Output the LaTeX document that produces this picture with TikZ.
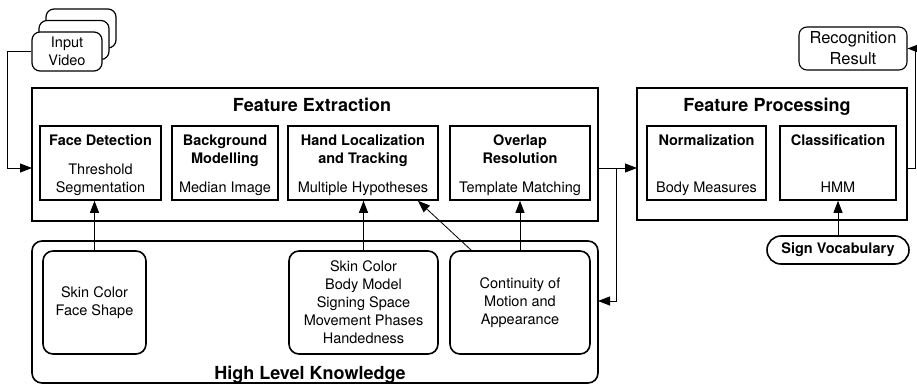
\documentclass[tikz,border=0pt]{standalone}
\usepackage{fontspec}
\setmainfont{TeX Gyre Heros}
\usetikzlibrary{arrows.meta}
\begin{document}
\begin{tikzpicture}[x=1pt,y=-1pt,
  thickbox/.style={draw,line width=1.6pt,inner sep=0pt,fill=white},
  conn/.style={line width=0.8pt},
  arr/.style={conn,-{Triangle[length=12pt,width=9pt]}},
  txt/.style={font=\fontsize{14.5}{18}\selectfont,align=center,inner sep=0pt},
  btxt/.style={font=\fontsize{14.5}{18}\selectfont\bfseries,align=center,inner sep=0pt},
  mline/.style={text depth=4pt},
  ttl/.style={font=\fontsize{18}{22}\selectfont\bfseries,inner sep=0pt,anchor=base},
]
\useasboundingbox (0,0) rectangle (917,385);

% Input video stack
\node[thickbox,line width=1.2pt,rounded corners=8pt,minimum width=70pt,minimum height=39pt] (iv3) at (81,28.5) {};
\node[thickbox,line width=1.2pt,rounded corners=8pt,minimum width=70pt,minimum height=39pt] (iv2) at (74,40) {};
\node[thickbox,line width=1.2pt,rounded corners=8pt,minimum width=70pt,minimum height=39pt,txt] (iv) at (67,51.5) {Input\\Video};

% Recognition result
\node[thickbox,line width=1.1pt,rounded corners=8pt,minimum width=108pt,minimum height=43pt,
  font=\fontsize{16.5}{21}\selectfont,align=center] (rr) at (853,48.5) {Recognition\\Result};

% Feature extraction
\node[thickbox,minimum width=566pt,minimum height=133pt] (fe) at (315,154.5) {};
\node[ttl] (fet) at (312,111) {Feature Extraction};
\node[thickbox,minimum width=121pt,minimum height=74pt] (fd) at (100.5,163) {};
\node[thickbox,minimum width=106pt,minimum height=74pt] (bg) at (225,163) {};
\node[thickbox,minimum width=150pt,minimum height=74pt] (hl) at (363,163) {};
\node[thickbox,minimum width=140pt,minimum height=74pt] (ov) at (520,163) {};
\node[btxt,anchor=base] (fdt) at (100.5,145.5) {Face Detection};
\node[txt,mline] (fdb) at (100.5,180.3) {Threshold\\Segmentation};
\node[btxt,mline] (bgt) at (225,151.3) {Background\\Modelling};
\node[txt,anchor=base] (bgb) at (225,192.5) {Median Image};
\node[btxt,mline] (hlt) at (363,151.3) {Hand Localization\\and Tracking};
\node[txt,anchor=base] (hlb) at (363,192.5) {Multiple Hypotheses};
\node[btxt,mline] (ovt) at (520,151.3) {Overlap\\Resolution};
\node[txt,anchor=base] (ovb) at (520,192.5) {Template Matching};

% Feature processing
\node[thickbox,minimum width=270pt,minimum height=132pt] (fp) at (772,154) {};
\node[ttl] (fpt) at (767,111.5) {Feature Processing};
\node[thickbox,minimum width=119pt,minimum height=74pt] (nm) at (706.5,163) {};
\node[thickbox,minimum width=116pt,minimum height=74pt] (cl) at (838,163) {};
\node[btxt,anchor=base] (nmt) at (706.5,145.5) {Normalization};
\node[txt,anchor=base] (nmb) at (706.5,192.5) {Body Measures};
\node[btxt,anchor=base] (clt) at (838,145.5) {Classification};
\node[txt,anchor=base] (clb) at (838,192.5) {HMM};

% Sign vocabulary
\node[thickbox,rounded corners=14pt,minimum width=142pt,minimum height=28pt,btxt] (sv) at (838,250) {Sign Vocabulary};

% High level knowledge
\node[thickbox,rounded corners=10pt,minimum width=566pt,minimum height=142pt] (hlk) at (315,312) {};
\node[ttl] (hlkt) at (310,379) {High Level Knowledge};
\node[thickbox,rounded corners=10pt,minimum width=103pt,minimum height=103pt,txt] (sk) at (94.5,302.5) {Skin Color\\Face Shape};
\node[thickbox,rounded corners=10pt,minimum width=149pt,minimum height=103pt,txt] (hk) at (363.5,302.5) {Skin Color\\Body Model\\Signing Space\\Movement Phases\\Handedness};
\node[thickbox,rounded corners=10pt,minimum width=140pt,minimum height=103pt,txt] (ct) at (520,302.5) {Continuity of\\Motion and\\Appearance};

% port coordinates
\coordinate (feIn) at (32,168);
\coordinate (feOut) at (598,168);
\coordinate (fpIn) at (637,168);
\coordinate (split) at (616,168);
\coordinate (hlkIn) at (598,301);
\coordinate (fpOut) at (907,168);
\coordinate (rloop) at (915.5,168);

% connectors
\draw[arr] (iv.west) -- ++(-24,0) |- (feIn);
\draw[arr] (feOut) -- (fpIn);
\draw[arr] (split) |- (hlkIn);
\draw[arr] (fpOut) -- (rloop) |- (rr.east);
\draw[arr] (sk.north) -- (sk.north |- fd.south);
\draw[arr] (hk.north) -- (hk.north |- hl.south);
\draw[arr] (ct.north) -- (ct.north |- ov.south);
\draw[arr] ([xshift=22pt]ct.north west) -- ([xshift=55pt]hl.south);
\draw[arr] (sv.north) -- (cl.south);
\end{tikzpicture}
\end{document}
